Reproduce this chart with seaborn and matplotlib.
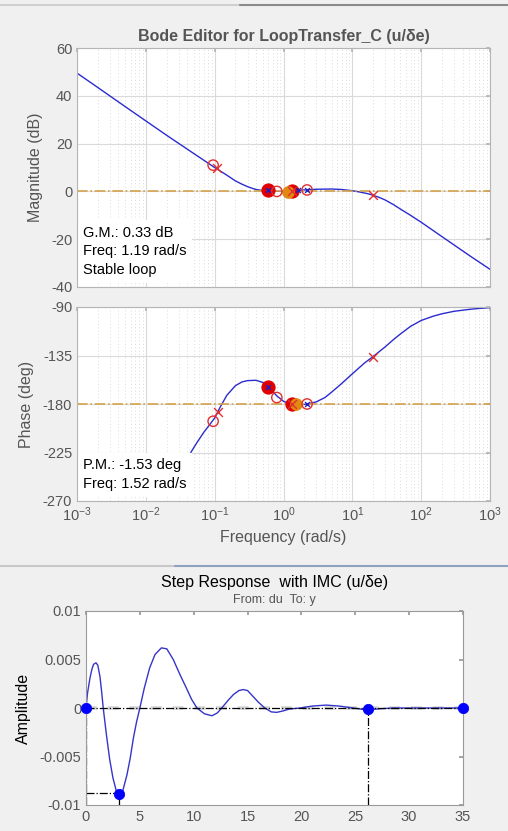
import matplotlib
matplotlib.use("Agg")
import matplotlib.pyplot as plt
from matplotlib.lines import Line2D
from matplotlib.ticker import FixedLocator, LogFormatterSciNotation
import seaborn as sns

# --- Bode magnitude ---
mag_freq = [1e-3, 2e-3, 5e-3, 1e-2, 2e-2, 5e-2, 0.1, 0.15, 0.2, 0.25, 0.3, 0.35, 0.4,
            0.5, 0.6, 0.8, 1.0, 1.2, 1.5, 2.0, 3.0, 5.0, 7.0, 10, 13, 17, 20, 25, 30, 40,
            50, 70, 100, 200, 500, 1000]
mag_db = [49.5, 43.5, 35.5, 29.5, 23.5, 15.8, 10.0, 6.8, 4.4, 3.0, 2.0, 1.3, 0.8,
          0.35, 0.2, 0.05, 0.05, 0.15, 0.35, 0.6, 0.9, 1.0, 0.8, 0.3, -0.3, -1.0, -1.6,
          -2.6, -3.6, -5.6, -7.4, -10.0, -12.9, -18.9, -26.8, -32.6]

# --- Bode phase ---
ph_freq = [0.045, 0.055, 0.07, 0.085, 0.1, 0.12, 0.15, 0.2, 0.25, 0.3, 0.4, 0.5, 0.6,
           0.7, 0.8, 1.0, 1.3, 1.7, 2.2, 3.0, 4.0, 5.0, 7.0, 10, 15, 20, 30, 40, 50, 70,
           100, 150, 200, 300, 500, 700, 1000]
ph_deg = [-225, -216, -206, -199, -193, -183, -172, -163, -159.5, -158.3, -158, -160,
          -164, -168.5, -172.5, -177.5, -180.5, -181, -180, -178, -174, -169, -161,
          -152, -142, -136, -127, -120, -115, -108, -102.5, -98.5, -96.3, -94, -92.2,
          -91.3, -90.6]

decades = [1e-3, 1e-2, 1e-1, 1e0, 1e1, 1e2, 1e3]

# design markers
mag_oc_f = [0.095, 0.8, 2.2]
mag_oc_db = [11.0, 0.0, 0.6]
mag_x_f = [0.108, 1.35, 20]
mag_x_db = [9.8, 0.0, -1.5]
mag_fill_f = [0.6, 1.35]
mag_fill_db = [0.6, 0.0]
mag_or_f = [1.15]
mag_or_db = [-0.3]
mag_bx_f = [0.6, 1.6, 2.2]
mag_bx_db = [0.6, 0.4, 0.6]

ph_oc_f = [0.095, 0.8, 2.2]
ph_oc_deg = [-196, -174, -180]
ph_x_f = [0.11, 1.35, 20]
ph_x_deg = [-187, -180, -136]
ph_fill_f = [0.6, 1.35]
ph_fill_deg = [-164, -180]
ph_or_f = [1.5]
ph_or_deg = [-180]
ph_bx_f = [0.6, 2.2]
ph_bx_deg = [-164, -180]

# --- Step response ---
t = [0, 0.15, 0.37, 0.55, 0.7, 0.93, 1.1, 1.3, 1.45, 1.6, 1.9, 2.2, 2.5, 2.8, 3.1, 3.4,
     3.8, 4.1, 4.4, 4.7, 5.0, 5.4, 5.9, 6.4, 7.0, 7.5, 8.1, 8.7, 9.3, 9.8, 10.3, 11.0,
     11.7, 12.2, 12.6, 13.2, 13.7, 14.2, 14.6, 15.0, 15.5, 16.0, 16.6, 17.2, 17.7, 18.3,
     18.9, 19.9, 21.0, 22.3, 23.5, 24.8, 26.0, 27.0, 28.5, 30, 35]
amp = [0, 0.0016, 0.0031, 0.0040, 0.0045, 0.00466, 0.0044, 0.0032, 0.0017, 0.0,
       -0.0028, -0.0053, -0.0072, -0.0085, -0.0090, -0.0086, -0.0069, -0.0052, -0.0031,
       -0.0014, 0.0, 0.0020, 0.0041, 0.0055, 0.0062, 0.0061, 0.0050, 0.0035, 0.0021,
       0.0009, 0.0, -0.0006, -0.0008, -0.0005, 0.0, 0.0008, 0.0014, 0.0018, 0.0019,
       0.0018, 0.0012, 0.0006, 0.0, -0.0004, -0.00045, -0.0003, -0.0001, 0.0, 0.0002,
       0.0003, 0.0002, 0.0, -0.0002, -0.0001, 0.0, 0.0, 0.0]
pt_t = [0, 3.1, 26.2, 35]
pt_amp = [0, -0.0089, -0.0001, 0]

sns.set_theme(style="white")
plt.rcParams['font.family'] = ['Liberation Sans', 'DejaVu Sans']
plt.rcParams['mathtext.fontset'] = 'custom'
plt.rcParams['mathtext.rm'] = 'Liberation Sans'
plt.rcParams['axes.unicode_minus'] = False

W, H = 508, 831
fig = plt.figure(figsize=(W / 100, H / 100), dpi=100)
fig.patch.set_facecolor('#f0f0f0')

def ax_px(l, r, top, bot):
    return fig.add_axes([l / W, (H - bot) / H, (r - l) / W, (bot - top) / H])

gray = '#555555'
blue = '#2b2bd0'
gold = '#d4a24c'

ax_m = ax_px(77, 490, 48, 287)
ax_p = ax_px(77, 490, 307, 501)
ax_s = ax_px(86, 463, 611, 805)

minor_f = [m * d for d in decades[:-1] for m in range(2, 10)]
for ax in (ax_m, ax_p):
    ax.set_facecolor('white')
    ax.set_xscale('log')
    ax.set_xlim(1e-3, 1e3)
    ax.xaxis.set_major_locator(FixedLocator(decades))
    ax.xaxis.set_major_formatter(LogFormatterSciNotation())
    ax.xaxis.set_minor_locator(FixedLocator(minor_f))
    ax.grid(True, which='major', color='#dadada', lw=0.8)
    ax.grid(True, which='minor', axis='x', color='#d2d2d2', lw=0.6, ls=(0, (1, 3)))
    for s in ax.spines.values():
        s.set_color('#b5b5b5')
        s.set_linewidth(0.8)
        s.set_zorder(10)
    ax.tick_params(axis='both', which='both', direction='in', colors='#b5b5b5',
                   labelcolor=gray, labelsize=10.5, length=3, top=True, right=True)
    ax.tick_params(which='minor', length=0, labelbottom=False)

# magnitude
sns.lineplot(x=mag_freq, y=mag_db, ax=ax_m, color=blue, lw=1, sort=False, estimator=None)
ax_m.axhline(0, color=gold, lw=1.2, ls='-.', zorder=2)
ax_m.set_ylim(-40, 60)
ax_m.set_yticks([-40, -20, 0, 20, 40, 60])
ax_m.tick_params(labelbottom=False)
ax_m.set_ylabel('Magnitude (dB)', color=gray, fontsize=11.5, labelpad=6)
ax_m.set_title('Bode Editor for LoopTransfer_C (u/δe)', color=gray, fontsize=11.5,
               fontweight='bold', pad=5)
sns.scatterplot(x=mag_fill_f, y=mag_fill_db, ax=ax_m, color='#e00000', s=90,
                edgecolor='#e00000', zorder=5)
sns.scatterplot(x=mag_or_f, y=mag_or_db, ax=ax_m, color='#e08a10', s=70,
                edgecolor='#e08a10', zorder=5)
sns.scatterplot(x=mag_oc_f, y=mag_oc_db, ax=ax_m, facecolor='none', edgecolor='#e03030',
                s=55, lw=1, zorder=6)
sns.scatterplot(x=mag_x_f, y=mag_x_db, ax=ax_m, color='#e03030', marker='x', s=40,
                lw=1, zorder=6)
sns.scatterplot(x=mag_bx_f, y=mag_bx_db, ax=ax_m, color='#2020c0', marker='x', s=12,
                lw=1, zorder=7)
ax_m.text(0.015, 0.04, 'G.M.: 0.33 dB\nFreq: 1.19 rad/s\nStable loop',
          transform=ax_m.transAxes, fontsize=10.5, color='black', va='bottom',
          linespacing=1.45, zorder=8,
          bbox=dict(facecolor='white', edgecolor='none', pad=4))

# phase
sns.lineplot(x=ph_freq, y=ph_deg, ax=ax_p, color=blue, lw=1, sort=False, estimator=None)
ax_p.axhline(-180, color=gold, lw=1.2, ls='-.', zorder=2)
ax_p.set_ylim(-270, -90)
ax_p.set_yticks([-270, -225, -180, -135, -90])
ax_p.set_ylabel('Phase (deg)', color=gray, fontsize=11.5, labelpad=6)
ax_p.set_xlabel('Frequency (rad/s)', color=gray, fontsize=11.5, labelpad=4)
sns.scatterplot(x=ph_fill_f, y=ph_fill_deg, ax=ax_p, color='#e00000', s=90,
                edgecolor='#e00000', zorder=5)
sns.scatterplot(x=ph_or_f, y=ph_or_deg, ax=ax_p, color='#e08a10', s=70,
                edgecolor='#e08a10', zorder=5)
sns.scatterplot(x=ph_oc_f, y=ph_oc_deg, ax=ax_p, facecolor='none', edgecolor='#e03030',
                s=55, lw=1, zorder=6)
sns.scatterplot(x=ph_x_f, y=ph_x_deg, ax=ax_p, color='#e03030', marker='x', s=40,
                lw=1, zorder=6)
sns.scatterplot(x=ph_bx_f, y=ph_bx_deg, ax=ax_p, color='#2020c0', marker='x', s=12,
                lw=1, zorder=7)
ax_p.text(0.015, 0.05, 'P.M.: -1.53 deg\nFreq: 1.52 rad/s',
          transform=ax_p.transAxes, fontsize=10.5, color='black', va='bottom',
          linespacing=1.45, zorder=8,
          bbox=dict(facecolor='white', edgecolor='none', pad=4))

# step response
ax_s.set_facecolor('white')
sns.lineplot(x=t, y=amp, ax=ax_s, color='#3535c8', lw=1, sort=False, estimator=None)
ax_s.axhline(0, color='black', lw=0.9, ls='-.', zorder=2)
ax_s.axhline(0, color='#888888', lw=2.6, ls=(0, (3, 3)), alpha=0.35, zorder=1)
ax_s.plot([0, pt_t[1]], [pt_amp[1] + 0.0001] * 2, color='black', lw=0.9, ls='-.')
for tx, ay in zip(pt_t[:3], [0, pt_amp[1], 0]):
    ax_s.plot([tx, tx], [-0.01, ay], color='black', lw=0.9, ls='-.')
sns.scatterplot(x=pt_t, y=pt_amp, ax=ax_s, color='#0000ff', s=55, edgecolor='#0000ff',
                zorder=6, clip_on=False)
ax_s.set_xlim(0, 35)
ax_s.set_ylim(-0.01, 0.01)
ax_s.set_xticks(range(0, 36, 5))
ax_s.set_yticks([-0.01, -0.005, 0, 0.005, 0.01])
ax_s.set_yticklabels(['-0.01', '-0.005', '0', '0.005', '0.01'])
for s in ax_s.spines.values():
    s.set_color('#9a9a9a')
    s.set_linewidth(0.8)
ax_s.tick_params(axis='both', direction='in', colors='#9a9a9a', labelcolor=gray,
                 labelsize=10.5, length=3, top=True, right=True)
ax_s.set_ylabel('Amplitude', color='black', fontsize=11.5, labelpad=6)
fig.text(0.5 * (86 + 463) / W, 1 - 583 / H, 'Step Response  with IMC (u/δe)',
         ha='center', va='center', fontsize=11.5, color='black')
fig.text(0.5 * (86 + 463) / W, 1 - 600 / H, 'From: du  To: y',
         ha='center', va='center', fontsize=9, color=gray)

# window separators
fig.add_artist(Line2D([0, 240 / W], [1 - 5 / H] * 2, color='#d0d0d0', lw=1.5))
fig.add_artist(Line2D([240 / W, 1], [1 - 5 / H] * 2, color='#8a8a8a', lw=1.5))
fig.add_artist(Line2D([0, 175 / W], [1 - 566 / H] * 2, color='#c8c8c8', lw=1.5))
fig.add_artist(Line2D([175 / W, 1], [1 - 566 / H] * 2, color='#8fa3c0', lw=1.5))

fig.savefig('out.png', dpi=100, facecolor=fig.get_facecolor())
